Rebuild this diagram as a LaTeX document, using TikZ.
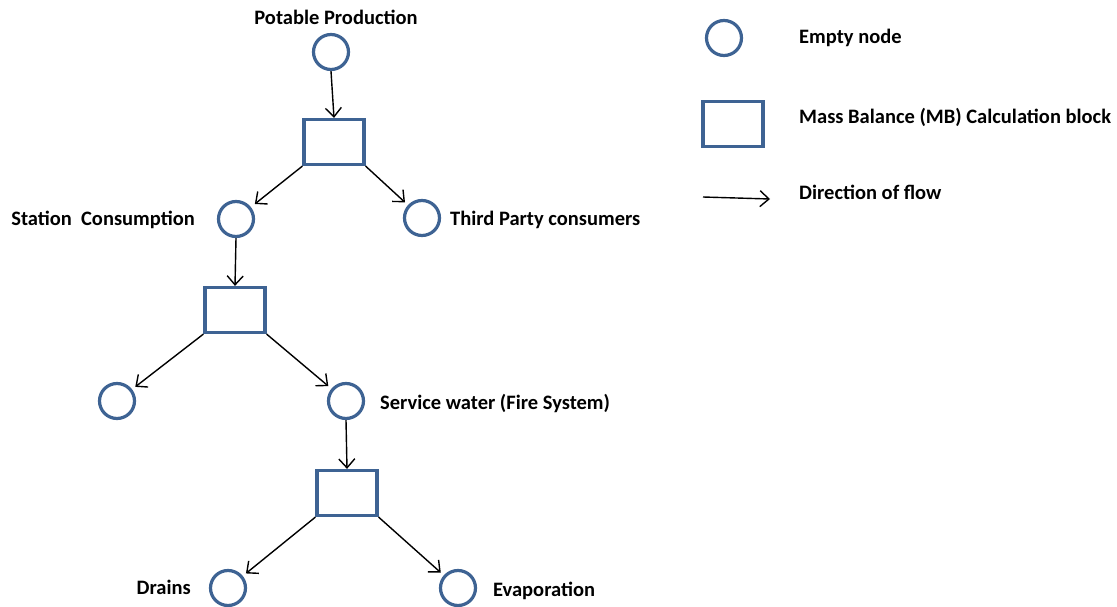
\documentclass[tikz,border=0pt]{standalone}
\usepackage{fontspec}
\setmainfont{Carlito}
\usetikzlibrary{arrows.meta}
\definecolor{nodeblue}{HTML}{3E6393}
\begin{document}
\begin{tikzpicture}[x=1pt,y=-1pt,
  emptynode/.style={circle,draw=nodeblue,line width=3.2pt,minimum size=35pt,inner sep=0pt},
  mbblock/.style={rectangle,draw=nodeblue,line width=3.2pt,minimum width=60pt,minimum height=45pt,inner sep=0pt},
  flow/.style={draw=black,line width=1.4pt,-{Straight Barb[length=9pt,width=16pt,line width=1.4pt]}},
  lbl/.style={font=\bfseries\fontsize{20.5}{24}\selectfont,inner sep=0pt}]
\useasboundingbox (0,0) rectangle (1117,607);

% tree of nodes and mass balance blocks
\node[emptynode] (pp) at (331,52) {};
\node[mbblock] (b1) at (334,142) {};
\node[emptynode] (sc) at (236,219) {};
\node[emptynode] (tp) at (422,218) {};
\node[mbblock] (b2) at (235,310) {};
\node[emptynode] (e1) at (117,401) {};
\node[emptynode] (sw) at (346,401) {};
\node[mbblock] (b3) at (347,493) {};
\node[emptynode] (dr) at (228,588) {};
\node[emptynode] (ev) at (458,588) {};

% labels
\node[lbl] (lpp) at (336,17) {Potable Production};
\node[lbl,anchor=east] (lsc) at (195,220) {Station\ \ Consumption};
\node[lbl,anchor=west] (ltp) at (450,220) {Third Party consumers};
\node[lbl,anchor=west] (lsw) at (380,404) {Service water (Fire System)};
\node[lbl,anchor=east] (ldr) at (191,587) {Drains};
\node[lbl,anchor=west] (lev) at (493,591) {Evaporation};

% flow connectors
\draw[flow] (pp.south) -- (b1.north);
\draw[flow,shorten >=5pt] (b1.south west) -- (sc);
\draw[flow,shorten >=4pt] (b1.south east) -- (tp);
\draw[flow] (sc.south) -- (b2.north);
\draw[flow,shorten >=4pt] (b2.south west) -- (e1);
\draw[flow,shorten >=4pt] (b2.south east) -- (sw);
\draw[flow] (sw.south) -- (b3.north);
\draw[flow,shorten >=4pt] (b3.south west) -- (dr);
\draw[flow,shorten >=4pt] (b3.south east) -- (ev);

% legend
\node[emptynode] (kn) at (724,38) {};
\node[lbl,anchor=west] (kntext) at (799,38) {Empty node};
\node[mbblock] (kb) at (733,124) {};
\node[lbl,anchor=west] (kbtext) at (799,117) {Mass Balance (MB) Calculation block};
\coordinate (ka) at (703,197);
\coordinate (kz) at (770,199);
\draw[flow] (ka) -- (kz);
\node[lbl,anchor=west] (katext) at (799,192) {Direction of flow};
\end{tikzpicture}
\end{document}
